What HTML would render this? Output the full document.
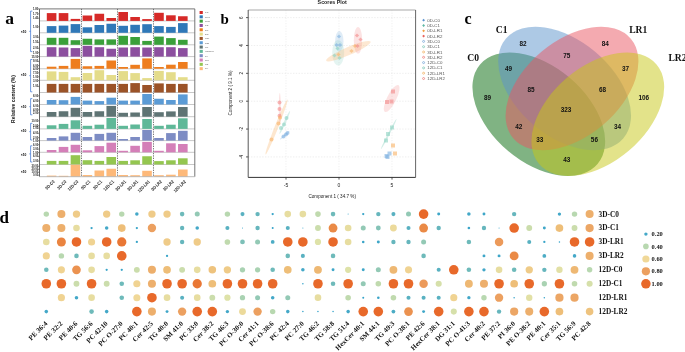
<!DOCTYPE html>
<html><head><meta charset="utf-8"><style>
html,body{margin:0;padding:0;background:#fff;width:685px;height:352px;overflow:hidden}
svg{display:block;filter:blur(0.4px)}
</style></head><body>
<svg width="685" height="352" viewBox="0 0 685 352">
<rect width="685" height="352" fill="#fff"/>
<g id="pa">
<line x1="39.5" y1="20.9" x2="194.8" y2="20.9" stroke="#c8c8c8" stroke-width="1"/>
<line x1="39.5" y1="32.8" x2="194.8" y2="32.8" stroke="#c8c8c8" stroke-width="1"/>
<line x1="39.5" y1="44.8" x2="194.8" y2="44.8" stroke="#c8c8c8" stroke-width="1"/>
<line x1="39.5" y1="56.6" x2="194.8" y2="56.6" stroke="#c8c8c8" stroke-width="1"/>
<line x1="39.5" y1="68.75" x2="194.8" y2="68.75" stroke="#c8c8c8" stroke-width="1"/>
<line x1="39.5" y1="80.3" x2="194.8" y2="80.3" stroke="#c8c8c8" stroke-width="1"/>
<line x1="39.5" y1="92.5" x2="194.8" y2="92.5" stroke="#c8c8c8" stroke-width="1"/>
<line x1="39.5" y1="104.5" x2="194.8" y2="104.5" stroke="#c8c8c8" stroke-width="1"/>
<line x1="39.5" y1="116.7" x2="194.8" y2="116.7" stroke="#c8c8c8" stroke-width="1"/>
<line x1="39.5" y1="128.9" x2="194.8" y2="128.9" stroke="#c8c8c8" stroke-width="1"/>
<line x1="39.5" y1="140.6" x2="194.8" y2="140.6" stroke="#c8c8c8" stroke-width="1"/>
<line x1="39.5" y1="152.3" x2="194.8" y2="152.3" stroke="#c8c8c8" stroke-width="1"/>
<line x1="39.5" y1="164.5" x2="194.8" y2="164.5" stroke="#c8c8c8" stroke-width="1"/>
<rect x="46.8" y="13.1" width="9.6" height="7.8" fill="#d62a28"/>
<rect x="58.73" y="13.1" width="9.6" height="7.8" fill="#d62a28"/>
<rect x="70.66" y="18.9" width="9.6" height="2" fill="#d62a28"/>
<rect x="82.59" y="15.5" width="9.6" height="5.4" fill="#d62a28"/>
<rect x="94.52" y="13.75" width="9.6" height="7.15" fill="#d62a28"/>
<rect x="106.45" y="18" width="9.6" height="2.9" fill="#d62a28"/>
<rect x="118.38" y="12" width="9.6" height="8.9" fill="#d62a28"/>
<rect x="130.31" y="17" width="9.6" height="3.9" fill="#d62a28"/>
<rect x="142.24" y="19.1" width="9.6" height="1.8" fill="#d62a28"/>
<rect x="154.17" y="12.8" width="9.6" height="8.1" fill="#d62a28"/>
<rect x="166.1" y="15.3" width="9.6" height="5.6" fill="#d62a28"/>
<rect x="178.03" y="16.25" width="9.6" height="4.65" fill="#d62a28"/>
<rect x="46.8" y="26.1" width="9.6" height="6.7" fill="#2f78b8"/>
<rect x="58.73" y="25.6" width="9.6" height="7.2" fill="#2f78b8"/>
<rect x="70.66" y="24.1" width="9.6" height="8.7" fill="#2f78b8"/>
<rect x="82.59" y="27.3" width="9.6" height="5.5" fill="#2f78b8"/>
<rect x="94.52" y="25" width="9.6" height="7.8" fill="#2f78b8"/>
<rect x="106.45" y="23.75" width="9.6" height="9.05" fill="#2f78b8"/>
<rect x="118.38" y="25.8" width="9.6" height="7" fill="#2f78b8"/>
<rect x="130.31" y="24.8" width="9.6" height="8" fill="#2f78b8"/>
<rect x="142.24" y="24.2" width="9.6" height="8.6" fill="#2f78b8"/>
<rect x="154.17" y="26.1" width="9.6" height="6.7" fill="#2f78b8"/>
<rect x="166.1" y="26.9" width="9.6" height="5.9" fill="#2f78b8"/>
<rect x="178.03" y="23.1" width="9.6" height="9.7" fill="#2f78b8"/>
<rect x="46.8" y="37.8" width="9.6" height="7" fill="#3aa03a"/>
<rect x="58.73" y="37.8" width="9.6" height="7" fill="#3aa03a"/>
<rect x="70.66" y="40.2" width="9.6" height="4.6" fill="#3aa03a"/>
<rect x="82.59" y="38.75" width="9.6" height="6.05" fill="#3aa03a"/>
<rect x="94.52" y="39.4" width="9.6" height="5.4" fill="#3aa03a"/>
<rect x="106.45" y="39.4" width="9.6" height="5.4" fill="#3aa03a"/>
<rect x="118.38" y="35.8" width="9.6" height="9" fill="#3aa03a"/>
<rect x="130.31" y="37" width="9.6" height="7.8" fill="#3aa03a"/>
<rect x="142.24" y="40.9" width="9.6" height="3.9" fill="#3aa03a"/>
<rect x="154.17" y="36.6" width="9.6" height="8.2" fill="#3aa03a"/>
<rect x="166.1" y="38.1" width="9.6" height="6.7" fill="#3aa03a"/>
<rect x="178.03" y="39.8" width="9.6" height="5" fill="#3aa03a"/>
<rect x="46.8" y="47.2" width="9.6" height="9.4" fill="#8c4f9f"/>
<rect x="58.73" y="47.5" width="9.6" height="9.1" fill="#8c4f9f"/>
<rect x="70.66" y="48.1" width="9.6" height="8.5" fill="#8c4f9f"/>
<rect x="82.59" y="45.9" width="9.6" height="10.7" fill="#8c4f9f"/>
<rect x="94.52" y="47.2" width="9.6" height="9.4" fill="#8c4f9f"/>
<rect x="106.45" y="48.75" width="9.6" height="7.85" fill="#8c4f9f"/>
<rect x="118.38" y="47.5" width="9.6" height="9.1" fill="#8c4f9f"/>
<rect x="130.31" y="47.2" width="9.6" height="9.4" fill="#8c4f9f"/>
<rect x="142.24" y="47.5" width="9.6" height="9.1" fill="#8c4f9f"/>
<rect x="154.17" y="47.2" width="9.6" height="9.4" fill="#8c4f9f"/>
<rect x="166.1" y="47.2" width="9.6" height="9.4" fill="#8c4f9f"/>
<rect x="178.03" y="48.1" width="9.6" height="8.5" fill="#8c4f9f"/>
<rect x="46.8" y="66.7" width="9.6" height="2.05" fill="#ee7d1e"/>
<rect x="58.73" y="65.9" width="9.6" height="2.85" fill="#ee7d1e"/>
<rect x="70.66" y="58.9" width="9.6" height="9.85" fill="#ee7d1e"/>
<rect x="82.59" y="66.25" width="9.6" height="2.5" fill="#ee7d1e"/>
<rect x="94.52" y="65.9" width="9.6" height="2.85" fill="#ee7d1e"/>
<rect x="106.45" y="60.5" width="9.6" height="8.25" fill="#ee7d1e"/>
<rect x="118.38" y="67" width="9.6" height="1.75" fill="#ee7d1e"/>
<rect x="130.31" y="64.8" width="9.6" height="3.95" fill="#ee7d1e"/>
<rect x="142.24" y="58.4" width="9.6" height="10.35" fill="#ee7d1e"/>
<rect x="154.17" y="67" width="9.6" height="1.75" fill="#ee7d1e"/>
<rect x="166.1" y="64.7" width="9.6" height="4.05" fill="#ee7d1e"/>
<rect x="178.03" y="62" width="9.6" height="6.75" fill="#ee7d1e"/>
<rect x="46.8" y="71.4" width="9.6" height="8.9" fill="#e4dc8a"/>
<rect x="58.73" y="71.9" width="9.6" height="8.4" fill="#e4dc8a"/>
<rect x="70.66" y="77.2" width="9.6" height="3.1" fill="#e4dc8a"/>
<rect x="82.59" y="73" width="9.6" height="7.3" fill="#e4dc8a"/>
<rect x="94.52" y="70.2" width="9.6" height="10.1" fill="#e4dc8a"/>
<rect x="106.45" y="75" width="9.6" height="5.3" fill="#e4dc8a"/>
<rect x="118.38" y="71.1" width="9.6" height="9.2" fill="#e4dc8a"/>
<rect x="130.31" y="73.1" width="9.6" height="7.2" fill="#e4dc8a"/>
<rect x="142.24" y="78.1" width="9.6" height="2.2" fill="#e4dc8a"/>
<rect x="154.17" y="70.9" width="9.6" height="9.4" fill="#e4dc8a"/>
<rect x="166.1" y="72.2" width="9.6" height="8.1" fill="#e4dc8a"/>
<rect x="178.03" y="77.2" width="9.6" height="3.1" fill="#e4dc8a"/>
<rect x="46.8" y="83.9" width="9.6" height="8.6" fill="#9b5328"/>
<rect x="58.73" y="83.9" width="9.6" height="8.6" fill="#9b5328"/>
<rect x="70.66" y="83.9" width="9.6" height="8.6" fill="#9b5328"/>
<rect x="82.59" y="83.9" width="9.6" height="8.6" fill="#9b5328"/>
<rect x="94.52" y="83.9" width="9.6" height="8.6" fill="#9b5328"/>
<rect x="106.45" y="83.9" width="9.6" height="8.6" fill="#9b5328"/>
<rect x="118.38" y="83.9" width="9.6" height="8.6" fill="#9b5328"/>
<rect x="130.31" y="83.1" width="9.6" height="9.4" fill="#9b5328"/>
<rect x="142.24" y="85" width="9.6" height="7.5" fill="#9b5328"/>
<rect x="154.17" y="83.4" width="9.6" height="9.1" fill="#9b5328"/>
<rect x="166.1" y="83.9" width="9.6" height="8.6" fill="#9b5328"/>
<rect x="178.03" y="83.9" width="9.6" height="8.6" fill="#9b5328"/>
<rect x="46.8" y="100" width="9.6" height="4.5" fill="#5b9bd5"/>
<rect x="58.73" y="100.2" width="9.6" height="4.3" fill="#5b9bd5"/>
<rect x="70.66" y="96.9" width="9.6" height="7.6" fill="#5b9bd5"/>
<rect x="82.59" y="100.6" width="9.6" height="3.9" fill="#5b9bd5"/>
<rect x="94.52" y="101.1" width="9.6" height="3.4" fill="#5b9bd5"/>
<rect x="106.45" y="97.7" width="9.6" height="6.8" fill="#5b9bd5"/>
<rect x="118.38" y="100.6" width="9.6" height="3.9" fill="#5b9bd5"/>
<rect x="130.31" y="100.6" width="9.6" height="3.9" fill="#5b9bd5"/>
<rect x="142.24" y="94" width="9.6" height="10.5" fill="#5b9bd5"/>
<rect x="154.17" y="98.75" width="9.6" height="5.75" fill="#5b9bd5"/>
<rect x="166.1" y="100" width="9.6" height="4.5" fill="#5b9bd5"/>
<rect x="178.03" y="94.4" width="9.6" height="10.1" fill="#5b9bd5"/>
<rect x="46.8" y="112" width="9.6" height="4.7" fill="#5f7474"/>
<rect x="58.73" y="111.25" width="9.6" height="5.45" fill="#5f7474"/>
<rect x="70.66" y="107.8" width="9.6" height="8.9" fill="#5f7474"/>
<rect x="82.59" y="112" width="9.6" height="4.7" fill="#5f7474"/>
<rect x="94.52" y="111.25" width="9.6" height="5.45" fill="#5f7474"/>
<rect x="106.45" y="105.9" width="9.6" height="10.8" fill="#5f7474"/>
<rect x="118.38" y="112.8" width="9.6" height="3.9" fill="#5f7474"/>
<rect x="130.31" y="112.5" width="9.6" height="4.2" fill="#5f7474"/>
<rect x="142.24" y="107" width="9.6" height="9.7" fill="#5f7474"/>
<rect x="154.17" y="112.2" width="9.6" height="4.5" fill="#5f7474"/>
<rect x="166.1" y="111.4" width="9.6" height="5.3" fill="#5f7474"/>
<rect x="178.03" y="107" width="9.6" height="9.7" fill="#5f7474"/>
<rect x="46.8" y="125.3" width="9.6" height="3.6" fill="#5fb898"/>
<rect x="58.73" y="123.9" width="9.6" height="5" fill="#5fb898"/>
<rect x="70.66" y="120.3" width="9.6" height="8.6" fill="#5fb898"/>
<rect x="82.59" y="125.8" width="9.6" height="3.1" fill="#5fb898"/>
<rect x="94.52" y="124.7" width="9.6" height="4.2" fill="#5fb898"/>
<rect x="106.45" y="118" width="9.6" height="10.9" fill="#5fb898"/>
<rect x="118.38" y="125.8" width="9.6" height="3.1" fill="#5fb898"/>
<rect x="130.31" y="124.5" width="9.6" height="4.4" fill="#5fb898"/>
<rect x="142.24" y="119" width="9.6" height="9.9" fill="#5fb898"/>
<rect x="154.17" y="125.8" width="9.6" height="3.1" fill="#5fb898"/>
<rect x="166.1" y="124.7" width="9.6" height="4.2" fill="#5fb898"/>
<rect x="178.03" y="118.3" width="9.6" height="10.6" fill="#5fb898"/>
<rect x="46.8" y="138" width="9.6" height="2.6" fill="#7d8cc4"/>
<rect x="58.73" y="136.4" width="9.6" height="4.2" fill="#7d8cc4"/>
<rect x="70.66" y="132.8" width="9.6" height="7.8" fill="#7d8cc4"/>
<rect x="82.59" y="137" width="9.6" height="3.6" fill="#7d8cc4"/>
<rect x="94.52" y="133.9" width="9.6" height="6.7" fill="#7d8cc4"/>
<rect x="106.45" y="132.8" width="9.6" height="7.8" fill="#7d8cc4"/>
<rect x="118.38" y="139" width="9.6" height="1.6" fill="#7d8cc4"/>
<rect x="130.31" y="137" width="9.6" height="3.6" fill="#7d8cc4"/>
<rect x="142.24" y="130" width="9.6" height="10.6" fill="#7d8cc4"/>
<rect x="154.17" y="138" width="9.6" height="2.6" fill="#7d8cc4"/>
<rect x="166.1" y="133.1" width="9.6" height="7.5" fill="#7d8cc4"/>
<rect x="178.03" y="130.8" width="9.6" height="9.8" fill="#7d8cc4"/>
<rect x="46.8" y="150" width="9.6" height="2.3" fill="#d47fb8"/>
<rect x="58.73" y="146.9" width="9.6" height="5.4" fill="#d47fb8"/>
<rect x="70.66" y="144.8" width="9.6" height="7.5" fill="#d47fb8"/>
<rect x="82.59" y="150.3" width="9.6" height="2" fill="#d47fb8"/>
<rect x="94.52" y="146.1" width="9.6" height="6.2" fill="#d47fb8"/>
<rect x="106.45" y="142.7" width="9.6" height="9.6" fill="#d47fb8"/>
<rect x="118.38" y="150.8" width="9.6" height="1.5" fill="#d47fb8"/>
<rect x="130.31" y="145.8" width="9.6" height="6.5" fill="#d47fb8"/>
<rect x="142.24" y="141.9" width="9.6" height="10.4" fill="#d47fb8"/>
<rect x="154.17" y="150.8" width="9.6" height="1.5" fill="#d47fb8"/>
<rect x="166.1" y="143.3" width="9.6" height="9" fill="#d47fb8"/>
<rect x="178.03" y="144" width="9.6" height="8.3" fill="#d47fb8"/>
<rect x="46.8" y="160.9" width="9.6" height="3.6" fill="#94c650"/>
<rect x="58.73" y="160.9" width="9.6" height="3.6" fill="#94c650"/>
<rect x="70.66" y="155.2" width="9.6" height="9.3" fill="#94c650"/>
<rect x="82.59" y="160.2" width="9.6" height="4.3" fill="#94c650"/>
<rect x="94.52" y="160.9" width="9.6" height="3.6" fill="#94c650"/>
<rect x="106.45" y="157" width="9.6" height="7.5" fill="#94c650"/>
<rect x="118.38" y="160.9" width="9.6" height="3.6" fill="#94c650"/>
<rect x="130.31" y="160.3" width="9.6" height="4.2" fill="#94c650"/>
<rect x="142.24" y="156.25" width="9.6" height="8.25" fill="#94c650"/>
<rect x="154.17" y="161.1" width="9.6" height="3.4" fill="#94c650"/>
<rect x="166.1" y="160.3" width="9.6" height="4.2" fill="#94c650"/>
<rect x="178.03" y="158.3" width="9.6" height="6.2" fill="#94c650"/>
<rect x="46.8" y="175.6" width="9.6" height="1" fill="#fdb97a"/>
<rect x="58.73" y="175.8" width="9.6" height="0.8" fill="#fdb97a"/>
<rect x="70.66" y="164.8" width="9.6" height="11.8" fill="#fdb97a"/>
<rect x="82.59" y="175" width="9.6" height="1.6" fill="#fdb97a"/>
<rect x="94.52" y="170.5" width="9.6" height="6.1" fill="#fdb97a"/>
<rect x="106.45" y="168.75" width="9.6" height="7.85" fill="#fdb97a"/>
<rect x="118.38" y="175" width="9.6" height="1.6" fill="#fdb97a"/>
<rect x="130.31" y="175.2" width="9.6" height="1.4" fill="#fdb97a"/>
<rect x="142.24" y="170.8" width="9.6" height="5.8" fill="#fdb97a"/>
<rect x="154.17" y="175.2" width="9.6" height="1.4" fill="#fdb97a"/>
<rect x="166.1" y="174.7" width="9.6" height="1.9" fill="#fdb97a"/>
<rect x="178.03" y="169.5" width="9.6" height="7.1" fill="#fdb97a"/>
<line x1="81.5" y1="8.9" x2="81.5" y2="176.7" stroke="#555" stroke-width="0.8" stroke-dasharray="1.3,1.1"/>
<line x1="117.5" y1="8.9" x2="117.5" y2="176.7" stroke="#555" stroke-width="0.8" stroke-dasharray="1.3,1.1"/>
<line x1="153.5" y1="8.9" x2="153.5" y2="176.7" stroke="#555" stroke-width="0.8" stroke-dasharray="1.3,1.1"/>
<line x1="39.5" y1="8.9" x2="194.8" y2="8.9" stroke="#666" stroke-width="0.9"/>
<line x1="194.8" y1="8.9" x2="194.8" y2="176.7" stroke="#666" stroke-width="0.9"/>
<line x1="39.5" y1="8.9" x2="39.5" y2="176.7" stroke="#555" stroke-width="0.9"/>
<line x1="39.5" y1="176.7" x2="194.8" y2="176.7" stroke="#aaa" stroke-width="0.8"/>
<line x1="38.0" y1="8.9" x2="39.5" y2="8.9" stroke="#555" stroke-width="0.6"/>
<text x="38.3" y="9.8" font-size="2.7" font-family="'Liberation Sans', sans-serif" fill="#222" text-anchor="end" font-weight="bold">1.80</text>
<line x1="38.0" y1="13.9" x2="39.5" y2="13.9" stroke="#555" stroke-width="0.6"/>
<text x="38.3" y="14.8" font-size="2.7" font-family="'Liberation Sans', sans-serif" fill="#222" text-anchor="end" font-weight="bold">1.70</text>
<line x1="38.0" y1="18.3" x2="39.5" y2="18.3" stroke="#555" stroke-width="0.6"/>
<text x="38.3" y="19.2" font-size="2.7" font-family="'Liberation Sans', sans-serif" fill="#222" text-anchor="end" font-weight="bold">1.40</text>
<line x1="38.0" y1="26.9" x2="39.5" y2="26.9" stroke="#555" stroke-width="0.6"/>
<text x="38.3" y="27.799999999999997" font-size="2.7" font-family="'Liberation Sans', sans-serif" fill="#222" text-anchor="end" font-weight="bold">1.00</text>
<line x1="38.0" y1="37.3" x2="39.5" y2="37.3" stroke="#555" stroke-width="0.6"/>
<text x="38.3" y="38.199999999999996" font-size="2.7" font-family="'Liberation Sans', sans-serif" fill="#222" text-anchor="end" font-weight="bold">3.00</text>
<line x1="38.0" y1="42.5" x2="39.5" y2="42.5" stroke="#555" stroke-width="0.6"/>
<text x="38.3" y="43.4" font-size="2.7" font-family="'Liberation Sans', sans-serif" fill="#222" text-anchor="end" font-weight="bold">1.50</text>
<line x1="38.0" y1="48.4" x2="39.5" y2="48.4" stroke="#555" stroke-width="0.6"/>
<text x="38.3" y="49.3" font-size="2.7" font-family="'Liberation Sans', sans-serif" fill="#222" text-anchor="end" font-weight="bold">2.00</text>
<line x1="38.0" y1="52.7" x2="39.5" y2="52.7" stroke="#555" stroke-width="0.6"/>
<text x="38.3" y="53.6" font-size="2.7" font-family="'Liberation Sans', sans-serif" fill="#222" text-anchor="end" font-weight="bold">1.00</text>
<line x1="38.0" y1="56.6" x2="39.5" y2="56.6" stroke="#555" stroke-width="0.6"/>
<text x="38.3" y="57.5" font-size="2.7" font-family="'Liberation Sans', sans-serif" fill="#222" text-anchor="end" font-weight="bold">15.00</text>
<line x1="38.0" y1="61.5" x2="39.5" y2="61.5" stroke="#555" stroke-width="0.6"/>
<text x="38.3" y="62.4" font-size="2.7" font-family="'Liberation Sans', sans-serif" fill="#222" text-anchor="end" font-weight="bold">9.00</text>
<line x1="38.0" y1="65.6" x2="39.5" y2="65.6" stroke="#555" stroke-width="0.6"/>
<text x="38.3" y="66.5" font-size="2.7" font-family="'Liberation Sans', sans-serif" fill="#222" text-anchor="end" font-weight="bold">6.00</text>
<line x1="38.0" y1="68.6" x2="39.5" y2="68.6" stroke="#555" stroke-width="0.6"/>
<text x="38.3" y="69.5" font-size="2.7" font-family="'Liberation Sans', sans-serif" fill="#222" text-anchor="end" font-weight="bold">4.00</text>
<line x1="38.0" y1="72.9" x2="39.5" y2="72.9" stroke="#555" stroke-width="0.6"/>
<text x="38.3" y="73.80000000000001" font-size="2.7" font-family="'Liberation Sans', sans-serif" fill="#222" text-anchor="end" font-weight="bold">7.50</text>
<line x1="38.0" y1="76.8" x2="39.5" y2="76.8" stroke="#555" stroke-width="0.6"/>
<text x="38.3" y="77.7" font-size="2.7" font-family="'Liberation Sans', sans-serif" fill="#222" text-anchor="end" font-weight="bold">1.00</text>
<line x1="38.0" y1="80.6" x2="39.5" y2="80.6" stroke="#555" stroke-width="0.6"/>
<text x="38.3" y="81.5" font-size="2.7" font-family="'Liberation Sans', sans-serif" fill="#222" text-anchor="end" font-weight="bold">3.00</text>
<line x1="38.0" y1="86.5" x2="39.5" y2="86.5" stroke="#555" stroke-width="0.6"/>
<text x="38.3" y="87.4" font-size="2.7" font-family="'Liberation Sans', sans-serif" fill="#222" text-anchor="end" font-weight="bold">1.00</text>
<line x1="38.0" y1="95.9" x2="39.5" y2="95.9" stroke="#555" stroke-width="0.6"/>
<text x="38.3" y="96.80000000000001" font-size="2.7" font-family="'Liberation Sans', sans-serif" fill="#222" text-anchor="end" font-weight="bold">8.00</text>
<line x1="38.0" y1="101" x2="39.5" y2="101" stroke="#555" stroke-width="0.6"/>
<text x="38.3" y="101.9" font-size="2.7" font-family="'Liberation Sans', sans-serif" fill="#222" text-anchor="end" font-weight="bold">4.00</text>
<line x1="38.0" y1="106.1" x2="39.5" y2="106.1" stroke="#555" stroke-width="0.6"/>
<text x="38.3" y="107.0" font-size="2.7" font-family="'Liberation Sans', sans-serif" fill="#222" text-anchor="end" font-weight="bold">6.00</text>
<line x1="38.0" y1="109.9" x2="39.5" y2="109.9" stroke="#555" stroke-width="0.6"/>
<text x="38.3" y="110.80000000000001" font-size="2.7" font-family="'Liberation Sans', sans-serif" fill="#222" text-anchor="end" font-weight="bold">4.00</text>
<line x1="38.0" y1="112.9" x2="39.5" y2="112.9" stroke="#555" stroke-width="0.6"/>
<text x="38.3" y="113.80000000000001" font-size="2.7" font-family="'Liberation Sans', sans-serif" fill="#222" text-anchor="end" font-weight="bold">2.00</text>
<line x1="38.0" y1="120.9" x2="39.5" y2="120.9" stroke="#555" stroke-width="0.6"/>
<text x="38.3" y="121.80000000000001" font-size="2.7" font-family="'Liberation Sans', sans-serif" fill="#222" text-anchor="end" font-weight="bold">10.00</text>
<line x1="38.0" y1="125.8" x2="39.5" y2="125.8" stroke="#555" stroke-width="0.6"/>
<text x="38.3" y="126.7" font-size="2.7" font-family="'Liberation Sans', sans-serif" fill="#222" text-anchor="end" font-weight="bold">5.00</text>
<line x1="38.0" y1="128.2" x2="39.5" y2="128.2" stroke="#555" stroke-width="0.6"/>
<text x="38.3" y="129.1" font-size="2.7" font-family="'Liberation Sans', sans-serif" fill="#222" text-anchor="end" font-weight="bold">1.00</text>
<line x1="38.0" y1="133.4" x2="39.5" y2="133.4" stroke="#555" stroke-width="0.6"/>
<text x="38.3" y="134.3" font-size="2.7" font-family="'Liberation Sans', sans-serif" fill="#222" text-anchor="end" font-weight="bold">4.00</text>
<line x1="38.0" y1="137.7" x2="39.5" y2="137.7" stroke="#555" stroke-width="0.6"/>
<text x="38.3" y="138.6" font-size="2.7" font-family="'Liberation Sans', sans-serif" fill="#222" text-anchor="end" font-weight="bold">2.00</text>
<line x1="38.0" y1="140.7" x2="39.5" y2="140.7" stroke="#555" stroke-width="0.6"/>
<text x="38.3" y="141.6" font-size="2.7" font-family="'Liberation Sans', sans-serif" fill="#222" text-anchor="end" font-weight="bold">1.00</text>
<line x1="38.0" y1="144.7" x2="39.5" y2="144.7" stroke="#555" stroke-width="0.6"/>
<text x="38.3" y="145.6" font-size="2.7" font-family="'Liberation Sans', sans-serif" fill="#222" text-anchor="end" font-weight="bold">6.00</text>
<line x1="38.0" y1="149.2" x2="39.5" y2="149.2" stroke="#555" stroke-width="0.6"/>
<text x="38.3" y="150.1" font-size="2.7" font-family="'Liberation Sans', sans-serif" fill="#222" text-anchor="end" font-weight="bold">3.00</text>
<line x1="38.0" y1="152.6" x2="39.5" y2="152.6" stroke="#555" stroke-width="0.6"/>
<text x="38.3" y="153.5" font-size="2.7" font-family="'Liberation Sans', sans-serif" fill="#222" text-anchor="end" font-weight="bold">1.00</text>
<line x1="38.0" y1="156.5" x2="39.5" y2="156.5" stroke="#555" stroke-width="0.6"/>
<text x="38.3" y="157.4" font-size="2.7" font-family="'Liberation Sans', sans-serif" fill="#222" text-anchor="end" font-weight="bold">6.00</text>
<line x1="38.0" y1="161.1" x2="39.5" y2="161.1" stroke="#555" stroke-width="0.6"/>
<text x="38.3" y="162.0" font-size="2.7" font-family="'Liberation Sans', sans-serif" fill="#222" text-anchor="end" font-weight="bold">3.00</text>
<line x1="38.0" y1="166.4" x2="39.5" y2="166.4" stroke="#555" stroke-width="0.6"/>
<text x="38.3" y="167.3" font-size="2.7" font-family="'Liberation Sans', sans-serif" fill="#222" text-anchor="end" font-weight="bold">30.00</text>
<line x1="38.0" y1="169.4" x2="39.5" y2="169.4" stroke="#555" stroke-width="0.6"/>
<text x="38.3" y="170.3" font-size="2.7" font-family="'Liberation Sans', sans-serif" fill="#222" text-anchor="end" font-weight="bold">20.00</text>
<line x1="38.0" y1="172.4" x2="39.5" y2="172.4" stroke="#555" stroke-width="0.6"/>
<text x="38.3" y="173.3" font-size="2.7" font-family="'Liberation Sans', sans-serif" fill="#222" text-anchor="end" font-weight="bold">10.00</text>
<line x1="38.0" y1="175.3" x2="39.5" y2="175.3" stroke="#555" stroke-width="0.6"/>
<text x="38.3" y="176.20000000000002" font-size="2.7" font-family="'Liberation Sans', sans-serif" fill="#222" text-anchor="end" font-weight="bold">0.00</text>
<path d="M32.3,11.1 H30.6 V51.6 H32.3 M30.6,31.35 H29.3" stroke="#4a7fd8" stroke-width="0.8" fill="none"/>
<path d="M32.3,59.5 H30.6 V91.8 H32.3 M30.6,75.65 H29.3" stroke="#4a7fd8" stroke-width="0.8" fill="none"/>
<path d="M32.3,98.6 H30.6 V114.8 H32.3 M30.6,106.7 H29.3" stroke="#4a7fd8" stroke-width="0.8" fill="none"/>
<path d="M32.3,123.3 H30.6 V140 H32.3 M30.6,131.65 H29.3" stroke="#4a7fd8" stroke-width="0.8" fill="none"/>
<path d="M32.3,145.8 H30.6 V162 H32.3 M30.6,153.9 H29.3" stroke="#4a7fd8" stroke-width="0.8" fill="none"/>
<text x="20.8" y="32.7" font-size="3.3" font-family="'Liberation Sans', sans-serif" fill="#000" font-weight="bold">×10</text>
<text x="20.8" y="76.39999999999999" font-size="3.3" font-family="'Liberation Sans', sans-serif" fill="#000" font-weight="bold">×10</text>
<text x="20.8" y="107.8" font-size="3.3" font-family="'Liberation Sans', sans-serif" fill="#000" font-weight="bold">×10</text>
<text x="20.8" y="132.35" font-size="3.3" font-family="'Liberation Sans', sans-serif" fill="#000" font-weight="bold">×10</text>
<text x="20.8" y="155.79999999999998" font-size="3.3" font-family="'Liberation Sans', sans-serif" fill="#000" font-weight="bold">×10</text>
<text x="20.8" y="172.7" font-size="3.3" font-family="'Liberation Sans', sans-serif" fill="#000" font-weight="bold">×10</text>
<text transform="translate(14.6,99) rotate(-90)" font-size="5.0" font-family="'Liberation Sans', sans-serif" fill="#111" font-weight="bold" text-anchor="middle">Relative content (%)</text>
<text transform="translate(54.9,182) rotate(-45)" font-size="4.6" font-family="'Liberation Sans', sans-serif" fill="#222" font-weight="bold" text-anchor="end" textLength="11.2" lengthAdjust="spacingAndGlyphs">0D-C0</text>
<text transform="translate(66.83,182) rotate(-45)" font-size="4.6" font-family="'Liberation Sans', sans-serif" fill="#222" font-weight="bold" text-anchor="end" textLength="11.2" lengthAdjust="spacingAndGlyphs">3D-C0</text>
<text transform="translate(78.76,182) rotate(-45)" font-size="4.6" font-family="'Liberation Sans', sans-serif" fill="#222" font-weight="bold" text-anchor="end" textLength="13.2" lengthAdjust="spacingAndGlyphs">12D-C0</text>
<text transform="translate(90.69,182) rotate(-45)" font-size="4.6" font-family="'Liberation Sans', sans-serif" fill="#222" font-weight="bold" text-anchor="end" textLength="11.2" lengthAdjust="spacingAndGlyphs">0D-C1</text>
<text transform="translate(102.62,182) rotate(-45)" font-size="4.6" font-family="'Liberation Sans', sans-serif" fill="#222" font-weight="bold" text-anchor="end" textLength="11.2" lengthAdjust="spacingAndGlyphs">3D-C1</text>
<text transform="translate(114.55,182) rotate(-45)" font-size="4.6" font-family="'Liberation Sans', sans-serif" fill="#222" font-weight="bold" text-anchor="end" textLength="13.2" lengthAdjust="spacingAndGlyphs">12D-C1</text>
<text transform="translate(126.48,182) rotate(-45)" font-size="4.6" font-family="'Liberation Sans', sans-serif" fill="#222" font-weight="bold" text-anchor="end" textLength="13.2" lengthAdjust="spacingAndGlyphs">0D-LR1</text>
<text transform="translate(138.41,182) rotate(-45)" font-size="4.6" font-family="'Liberation Sans', sans-serif" fill="#222" font-weight="bold" text-anchor="end" textLength="13.2" lengthAdjust="spacingAndGlyphs">3D-LR1</text>
<text transform="translate(150.34,182) rotate(-45)" font-size="4.6" font-family="'Liberation Sans', sans-serif" fill="#222" font-weight="bold" text-anchor="end" textLength="15.2" lengthAdjust="spacingAndGlyphs">12D-LR1</text>
<text transform="translate(162.27,182) rotate(-45)" font-size="4.6" font-family="'Liberation Sans', sans-serif" fill="#222" font-weight="bold" text-anchor="end" textLength="13.2" lengthAdjust="spacingAndGlyphs">0D-LR2</text>
<text transform="translate(174.2,182) rotate(-45)" font-size="4.6" font-family="'Liberation Sans', sans-serif" fill="#222" font-weight="bold" text-anchor="end" textLength="13.2" lengthAdjust="spacingAndGlyphs">3D-LR2</text>
<text transform="translate(186.13,182) rotate(-45)" font-size="4.6" font-family="'Liberation Sans', sans-serif" fill="#222" font-weight="bold" text-anchor="end" textLength="15.2" lengthAdjust="spacingAndGlyphs">12D-LR2</text>
<rect x="199.6" y="11" width="3.2" height="3" fill="#d62a28"/>
<text x="205" y="13.3" font-size="2.5" font-family="'Liberation Sans', sans-serif" fill="#777" font-weight="bold">PC</text>
<rect x="199.6" y="15.32" width="3.2" height="3" fill="#2f78b8"/>
<text x="205" y="17.62" font-size="2.5" font-family="'Liberation Sans', sans-serif" fill="#777" font-weight="bold">LPC</text>
<rect x="199.6" y="19.64" width="3.2" height="3" fill="#3aa03a"/>
<text x="205" y="21.94" font-size="2.5" font-family="'Liberation Sans', sans-serif" fill="#777" font-weight="bold">LPE</text>
<rect x="199.6" y="23.96" width="3.2" height="3" fill="#8c4f9f"/>
<text x="205" y="26.26" font-size="2.5" font-family="'Liberation Sans', sans-serif" fill="#777" font-weight="bold">PE</text>
<rect x="199.6" y="28.28" width="3.2" height="3" fill="#ee7d1e"/>
<text x="205" y="30.58" font-size="2.5" font-family="'Liberation Sans', sans-serif" fill="#777" font-weight="bold">TG</text>
<rect x="199.6" y="32.6" width="3.2" height="3" fill="#e4dc8a"/>
<text x="205" y="34.9" font-size="2.5" font-family="'Liberation Sans', sans-serif" fill="#777" font-weight="bold">DG</text>
<rect x="199.6" y="36.92" width="3.2" height="3" fill="#9b5328"/>
<text x="205" y="39.22" font-size="2.5" font-family="'Liberation Sans', sans-serif" fill="#777" font-weight="bold">Cer</text>
<rect x="199.6" y="41.24" width="3.2" height="3" fill="#5b9bd5"/>
<text x="205" y="43.54" font-size="2.5" font-family="'Liberation Sans', sans-serif" fill="#777" font-weight="bold">SM</text>
<rect x="199.6" y="45.56" width="3.2" height="3" fill="#5f7474"/>
<text x="205" y="47.86" font-size="2.5" font-family="'Liberation Sans', sans-serif" fill="#777" font-weight="bold">CL</text>
<rect x="199.6" y="49.88" width="3.2" height="3" fill="#5fb898"/>
<text x="205" y="52.18" font-size="2.5" font-family="'Liberation Sans', sans-serif" fill="#777" font-weight="bold">HexCer</text>
<rect x="199.6" y="54.2" width="3.2" height="3" fill="#7d8cc4"/>
<text x="205" y="56.5" font-size="2.5" font-family="'Liberation Sans', sans-serif" fill="#777" font-weight="bold">PI</text>
<rect x="199.6" y="58.52" width="3.2" height="3" fill="#d47fb8"/>
<text x="205" y="60.82" font-size="2.5" font-family="'Liberation Sans', sans-serif" fill="#777" font-weight="bold">LPI</text>
<rect x="199.6" y="62.84" width="3.2" height="3" fill="#94c650"/>
<text x="205" y="65.14" font-size="2.5" font-family="'Liberation Sans', sans-serif" fill="#777" font-weight="bold">Co</text>
<rect x="199.6" y="67.16" width="3.2" height="3" fill="#fdb97a"/>
<text x="205" y="69.46" font-size="2.5" font-family="'Liberation Sans', sans-serif" fill="#777" font-weight="bold">PA</text>
</g>
<text x="5.2" y="23.9" font-size="17.5" font-family="'Liberation Serif', serif" font-weight="bold" fill="#000">a</text>
<g id="pb">
<line x1="248.2" y1="17.62" x2="415.6" y2="17.62" stroke="#e2e2e2" stroke-width="0.6" stroke-dasharray="1.4,1.4"/>
<line x1="248.2" y1="45.48" x2="415.6" y2="45.48" stroke="#e2e2e2" stroke-width="0.6" stroke-dasharray="1.4,1.4"/>
<line x1="248.2" y1="73.34" x2="415.6" y2="73.34" stroke="#e2e2e2" stroke-width="0.6" stroke-dasharray="1.4,1.4"/>
<line x1="248.2" y1="101.2" x2="415.6" y2="101.2" stroke="#e2e2e2" stroke-width="0.6" stroke-dasharray="1.4,1.4"/>
<line x1="248.2" y1="129.06" x2="415.6" y2="129.06" stroke="#e2e2e2" stroke-width="0.6" stroke-dasharray="1.4,1.4"/>
<line x1="248.2" y1="156.92" x2="415.6" y2="156.92" stroke="#e2e2e2" stroke-width="0.6" stroke-dasharray="1.4,1.4"/>
<line x1="286" y1="10.0" x2="286" y2="177.4" stroke="#e6e6e6" stroke-width="0.6" stroke-dasharray="1.2,1.4"/>
<line x1="339" y1="10.0" x2="339" y2="177.4" stroke="#e6e6e6" stroke-width="0.6" stroke-dasharray="1.2,1.4"/>
<line x1="392" y1="10.0" x2="392" y2="177.4" stroke="#e6e6e6" stroke-width="0.6" stroke-dasharray="1.2,1.4"/>
<ellipse cx="339.3" cy="41.2" rx="4.2" ry="10.2" transform="rotate(0 339.3 41.2)" fill="#7fb2e0" fill-opacity="0.25"/>
<ellipse cx="338.2" cy="52.7" rx="6" ry="12.8" transform="rotate(0 338.2 52.7)" fill="#8fd3c4" fill-opacity="0.24"/>
<ellipse cx="348.4" cy="51.15" rx="24.2" ry="4" transform="rotate(-23.3 348.4 51.15)" fill="#f9b46a" fill-opacity="0.3"/>
<ellipse cx="358" cy="40.25" rx="4.2" ry="13.3" transform="rotate(0 358 40.25)" fill="#f28a8a" fill-opacity="0.24"/>
<ellipse cx="276.5" cy="127" rx="29.6" ry="1.8" transform="rotate(-68.2 276.5 127)" fill="#f9b46a" fill-opacity="0.32"/>
<ellipse cx="284.75" cy="122.5" rx="12.6" ry="1.1" transform="rotate(-65.5 284.75 122.5)" fill="#8fd3c4" fill-opacity="0.35"/>
<ellipse cx="284.75" cy="135.25" rx="6.4" ry="1" transform="rotate(-41.8 284.75 135.25)" fill="#7fb2e0" fill-opacity="0.3"/>
<ellipse cx="279.8" cy="109" rx="1" ry="16" transform="rotate(0 279.8 109)" fill="#f28a8a" fill-opacity="0.25"/>
<ellipse cx="391.65" cy="98.5" rx="15" ry="4.6" transform="rotate(-63.6 391.65 98.5)" fill="#f28a8a" fill-opacity="0.24"/>
<ellipse cx="388.75" cy="134" rx="16.9" ry="0.9" transform="rotate(-62.7 388.75 134)" fill="#8fd3c4" fill-opacity="0.4"/>
<path d="M339,34.4 L341.1,36.5 L339,38.6 L336.9,36.5Z" fill="#7fb2e0" fill-opacity="0.62"/>
<path d="M336.5,42.9 L338.6,45 L336.5,47.1 L334.4,45Z" fill="#7fb2e0" fill-opacity="0.62"/>
<path d="M340,42.9 L342.1,45 L340,47.1 L337.9,45Z" fill="#7fb2e0" fill-opacity="0.62"/>
<path d="M337.5,46.4 L339.6,48.5 L337.5,50.6 L335.4,48.5Z" fill="#8fd3c4" fill-opacity="0.62"/>
<path d="M334.5,53.4 L336.6,55.5 L334.5,57.6 L332.4,55.5Z" fill="#8fd3c4" fill-opacity="0.62"/>
<path d="M339.5,55.9 L341.6,58 L339.5,60.1 L337.4,58Z" fill="#8fd3c4" fill-opacity="0.62"/>
<path d="M338.5,52.4 L340.6,54.5 L338.5,56.6 L336.4,54.5Z" fill="#f9b46a" fill-opacity="0.62"/>
<path d="M351.5,48.9 L353.6,51 L351.5,53.1 L349.4,51Z" fill="#f9b46a" fill-opacity="0.62"/>
<path d="M355,43.9 L357.1,46 L355,48.1 L352.9,46Z" fill="#f9b46a" fill-opacity="0.62"/>
<path d="M357,33.4 L359.1,35.5 L357,37.6 L354.9,35.5Z" fill="#f28a8a" fill-opacity="0.62"/>
<path d="M360.5,37.4 L362.6,39.5 L360.5,41.6 L358.4,39.5Z" fill="#f28a8a" fill-opacity="0.62"/>
<path d="M357.5,43.9 L359.6,46 L357.5,48.1 L355.4,46Z" fill="#f28a8a" fill-opacity="0.62"/>
<circle cx="279.5" cy="102.5" r="2.0" fill="#f28a8a" fill-opacity="0.62"/>
<circle cx="279.5" cy="108.9" r="2.0" fill="#f28a8a" fill-opacity="0.62"/>
<circle cx="279.5" cy="115.8" r="2.0" fill="#f28a8a" fill-opacity="0.62"/>
<circle cx="280" cy="117.5" r="2.0" fill="#f9b46a" fill-opacity="0.62"/>
<circle cx="278.5" cy="123.5" r="2.0" fill="#f9b46a" fill-opacity="0.62"/>
<circle cx="271.5" cy="139.5" r="2.0" fill="#f9b46a" fill-opacity="0.62"/>
<circle cx="286.5" cy="118" r="2.0" fill="#8fd3c4" fill-opacity="0.62"/>
<circle cx="284" cy="124.5" r="2.0" fill="#8fd3c4" fill-opacity="0.62"/>
<circle cx="281" cy="128" r="2.0" fill="#8fd3c4" fill-opacity="0.62"/>
<circle cx="283.5" cy="136.5" r="2.0" fill="#7fb2e0" fill-opacity="0.62"/>
<circle cx="286" cy="134.5" r="2.0" fill="#7fb2e0" fill-opacity="0.62"/>
<circle cx="287.5" cy="133" r="2.0" fill="#7fb2e0" fill-opacity="0.62"/>
<rect x="391" y="89.5" width="4" height="4" fill="#f28a8a" fill-opacity="0.62"/>
<rect x="385" y="100" width="4" height="4" fill="#f28a8a" fill-opacity="0.62"/>
<rect x="389.5" y="99.5" width="4" height="4" fill="#f28a8a" fill-opacity="0.62"/>
<rect x="390" y="125.5" width="4" height="4" fill="#8fd3c4" fill-opacity="0.62"/>
<rect x="386" y="132" width="4" height="4" fill="#8fd3c4" fill-opacity="0.62"/>
<rect x="384" y="138.5" width="4" height="4" fill="#8fd3c4" fill-opacity="0.62"/>
<rect x="391" y="143.5" width="4" height="4" fill="#f9b46a" fill-opacity="0.62"/>
<rect x="393" y="151.5" width="4" height="4" fill="#f9b46a" fill-opacity="0.62"/>
<rect x="384.5" y="154" width="4" height="4" fill="#7fb2e0" fill-opacity="0.62"/>
<rect x="387.5" y="151.5" width="4" height="4" fill="#7fb2e0" fill-opacity="0.62"/>
<rect x="385.5" y="155" width="4" height="4" fill="#7fb2e0" fill-opacity="0.62"/>
<line x1="248.2" y1="10.0" x2="415.6" y2="10.0" stroke="#aaa" stroke-width="1.1"/>
<line x1="415.6" y1="10.0" x2="415.6" y2="177.4" stroke="#555" stroke-width="0.9"/>
<line x1="248.2" y1="10.0" x2="248.2" y2="177.4" stroke="#444" stroke-width="0.9"/>
<line x1="248.2" y1="177.4" x2="415.6" y2="177.4" stroke="#333" stroke-width="1"/>
<line x1="246.0" y1="17.62" x2="248.2" y2="17.62" stroke="#333" stroke-width="0.8"/>
<text transform="translate(242.6,17.62) rotate(-90)" font-size="4.6" font-family="'Liberation Sans', sans-serif" fill="#222" text-anchor="middle">6</text>
<line x1="246.0" y1="45.48" x2="248.2" y2="45.48" stroke="#333" stroke-width="0.8"/>
<text transform="translate(242.6,45.48) rotate(-90)" font-size="4.6" font-family="'Liberation Sans', sans-serif" fill="#222" text-anchor="middle">4</text>
<line x1="246.0" y1="73.34" x2="248.2" y2="73.34" stroke="#333" stroke-width="0.8"/>
<text transform="translate(242.6,73.34) rotate(-90)" font-size="4.6" font-family="'Liberation Sans', sans-serif" fill="#222" text-anchor="middle">2</text>
<line x1="246.0" y1="101.2" x2="248.2" y2="101.2" stroke="#333" stroke-width="0.8"/>
<text transform="translate(242.6,101.2) rotate(-90)" font-size="4.6" font-family="'Liberation Sans', sans-serif" fill="#222" text-anchor="middle">0</text>
<line x1="246.0" y1="129.06" x2="248.2" y2="129.06" stroke="#333" stroke-width="0.8"/>
<text transform="translate(242.6,129.06) rotate(-90)" font-size="4.6" font-family="'Liberation Sans', sans-serif" fill="#222" text-anchor="middle">-2</text>
<line x1="246.0" y1="156.92" x2="248.2" y2="156.92" stroke="#333" stroke-width="0.8"/>
<text transform="translate(242.6,156.92) rotate(-90)" font-size="4.6" font-family="'Liberation Sans', sans-serif" fill="#222" text-anchor="middle">-4</text>
<line x1="286" y1="177.4" x2="286" y2="179.6" stroke="#333" stroke-width="0.8"/>
<text x="286" y="187.4" font-size="5" font-family="'Liberation Sans', sans-serif" fill="#222" text-anchor="middle">-5</text>
<line x1="339" y1="177.4" x2="339" y2="179.6" stroke="#333" stroke-width="0.8"/>
<text x="339" y="187.4" font-size="5" font-family="'Liberation Sans', sans-serif" fill="#222" text-anchor="middle">0</text>
<line x1="392" y1="177.4" x2="392" y2="179.6" stroke="#333" stroke-width="0.8"/>
<text x="392" y="187.4" font-size="5" font-family="'Liberation Sans', sans-serif" fill="#222" text-anchor="middle">5</text>
<text x="332.2" y="198.2" font-size="4.6" font-family="'Liberation Sans', sans-serif" fill="#1a1a1a" text-anchor="middle">Component 1 ( 34.7 %)</text>
<text transform="translate(231.6,93) rotate(-90)" font-size="4.6" font-family="'Liberation Sans', sans-serif" fill="#1a1a1a" text-anchor="middle">Component 2 ( 9.1 %)</text>
<text x="332.2" y="4.2" font-size="5.3" font-family="'Liberation Sans', sans-serif" fill="#222" text-anchor="middle" font-weight="bold">Scores Plot</text>
<path d="M423.6,18.8 L425,20.2 L423.6,21.6 L422.2,20.2Z" fill="#5a93d0"/>
<text x="427.3" y="21.7" font-size="4.4" font-family="'Liberation Sans', sans-serif" fill="#555">0D-C0</text>
<path d="M423.6,24.1 L425,25.5 L423.6,26.9 L422.2,25.5Z" fill="#5fb8a4"/>
<text x="427.3" y="27" font-size="4.4" font-family="'Liberation Sans', sans-serif" fill="#555">0D-C1</text>
<path d="M423.6,29.4 L425,30.8 L423.6,32.2 L422.2,30.8Z" fill="#f0a040"/>
<text x="427.3" y="32.3" font-size="4.4" font-family="'Liberation Sans', sans-serif" fill="#555">0D-LR1</text>
<path d="M423.6,34.7 L425,36.1 L423.6,37.5 L422.2,36.1Z" fill="#e8605a"/>
<text x="427.3" y="37.6" font-size="4.4" font-family="'Liberation Sans', sans-serif" fill="#555">0D-LR2</text>
<circle cx="423.6" cy="41.4" r="1.0" fill="none" stroke="#5a93d0" stroke-width="0.6"/>
<text x="427.3" y="42.9" font-size="4.4" font-family="'Liberation Sans', sans-serif" fill="#555">3D-C0</text>
<circle cx="423.6" cy="46.7" r="1.0" fill="none" stroke="#5fb8a4" stroke-width="0.6"/>
<text x="427.3" y="48.2" font-size="4.4" font-family="'Liberation Sans', sans-serif" fill="#555">3D-C1</text>
<circle cx="423.6" cy="52" r="1.0" fill="none" stroke="#f0a040" stroke-width="0.6"/>
<text x="427.3" y="53.5" font-size="4.4" font-family="'Liberation Sans', sans-serif" fill="#555">3D-LR1</text>
<circle cx="423.6" cy="57.3" r="1.0" fill="none" stroke="#e8605a" stroke-width="0.6"/>
<text x="427.3" y="58.8" font-size="4.4" font-family="'Liberation Sans', sans-serif" fill="#555">3D-LR2</text>
<circle cx="423.6" cy="62.6" r="1.0" fill="none" stroke="#5a93d0" stroke-width="0.6"/>
<text x="427.3" y="64.1" font-size="4.4" font-family="'Liberation Sans', sans-serif" fill="#555">12D-C0</text>
<circle cx="423.6" cy="67.9" r="1.0" fill="none" stroke="#5fb8a4" stroke-width="0.6"/>
<text x="427.3" y="69.4" font-size="4.4" font-family="'Liberation Sans', sans-serif" fill="#555">12D-C1</text>
<circle cx="423.6" cy="73.2" r="1.0" fill="none" stroke="#f0a040" stroke-width="0.6"/>
<text x="427.3" y="74.7" font-size="4.4" font-family="'Liberation Sans', sans-serif" fill="#555">12D-LR1</text>
<circle cx="423.6" cy="78.5" r="1.0" fill="none" stroke="#e8605a" stroke-width="0.6"/>
<text x="427.3" y="80" font-size="4.4" font-family="'Liberation Sans', sans-serif" fill="#555">12D-LR2</text>
</g>
<text x="220.5" y="23.7" font-size="15" font-family="'Liberation Serif', serif" font-weight="bold" fill="#000">b</text>
<g id="pc">
<ellipse cx="538.8" cy="114.3" rx="77.0" ry="47.8" transform="rotate(40.3 538.8 114.3)" fill="rgb(1,103,7)" fill-opacity="0.5"/>
<ellipse cx="564.6" cy="88.5" rx="77.0" ry="47.8" transform="rotate(40.2 564.6 88.5)" fill="rgb(91,147,203)" fill-opacity="0.5"/>
<ellipse cx="572.0" cy="88.5" rx="77.0" ry="47.8" transform="rotate(-40.2 572.0 88.5)" fill="rgb(233,85,97)" fill-opacity="0.5"/>
<ellipse cx="597.8" cy="114.3" rx="77.0" ry="47.8" transform="rotate(-40.3 597.8 114.3)" fill="rgb(199,199,21)" fill-opacity="0.5"/>
<text x="523" y="45.5" font-size="6.4" font-family="'Liberation Sans', sans-serif" font-weight="bold" fill="#111" text-anchor="middle">82</text>
<text x="605.2" y="45.5" font-size="6.4" font-family="'Liberation Sans', sans-serif" font-weight="bold" fill="#111" text-anchor="middle">84</text>
<text x="566.7" y="58" font-size="6.4" font-family="'Liberation Sans', sans-serif" font-weight="bold" fill="#111" text-anchor="middle">75</text>
<text x="508.5" y="70.5" font-size="6.4" font-family="'Liberation Sans', sans-serif" font-weight="bold" fill="#111" text-anchor="middle">49</text>
<text x="625.6" y="70.5" font-size="6.4" font-family="'Liberation Sans', sans-serif" font-weight="bold" fill="#111" text-anchor="middle">37</text>
<text x="531" y="91.5" font-size="6.4" font-family="'Liberation Sans', sans-serif" font-weight="bold" fill="#111" text-anchor="middle">85</text>
<text x="602.6" y="91.5" font-size="6.4" font-family="'Liberation Sans', sans-serif" font-weight="bold" fill="#111" text-anchor="middle">68</text>
<text x="487.5" y="99.8" font-size="6.4" font-family="'Liberation Sans', sans-serif" font-weight="bold" fill="#111" text-anchor="middle">89</text>
<text x="643.8" y="99.8" font-size="6.4" font-family="'Liberation Sans', sans-serif" font-weight="bold" fill="#111" text-anchor="middle">106</text>
<text x="566" y="112.4" font-size="6.4" font-family="'Liberation Sans', sans-serif" font-weight="bold" fill="#111" text-anchor="middle">323</text>
<text x="518.7" y="129.3" font-size="6.4" font-family="'Liberation Sans', sans-serif" font-weight="bold" fill="#111" text-anchor="middle">42</text>
<text x="617.5" y="129.3" font-size="6.4" font-family="'Liberation Sans', sans-serif" font-weight="bold" fill="#111" text-anchor="middle">34</text>
<text x="539.8" y="141.6" font-size="6.4" font-family="'Liberation Sans', sans-serif" font-weight="bold" fill="#111" text-anchor="middle">33</text>
<text x="594.4" y="141.6" font-size="6.4" font-family="'Liberation Sans', sans-serif" font-weight="bold" fill="#111" text-anchor="middle">56</text>
<text x="566.8" y="162.2" font-size="6.4" font-family="'Liberation Sans', sans-serif" font-weight="bold" fill="#111" text-anchor="middle">43</text>
<text x="495.8" y="32.5" font-size="9.6" font-family="'Liberation Serif', serif" font-weight="bold" fill="#111">C1</text>
<text x="467.3" y="61.2" font-size="9.6" font-family="'Liberation Serif', serif" font-weight="bold" fill="#111">C0</text>
<text x="629.2" y="32.8" font-size="9.6" font-family="'Liberation Serif', serif" font-weight="bold" fill="#111">LR1</text>
<text x="668.4" y="61.2" font-size="9.6" font-family="'Liberation Serif', serif" font-weight="bold" fill="#111">LR2</text>
</g>
<text x="464.6" y="24" font-size="16" font-family="'Liberation Serif', serif" font-weight="bold" fill="#000">c</text>
<g id="pd">
<circle cx="46.3" cy="214.1" r="2.72" fill="rgb(184,216,176)"/>
<circle cx="61.39" cy="214.1" r="4.02" fill="rgb(237,175,108)"/>
<circle cx="76.48" cy="214.1" r="3.67" fill="rgb(239,203,136)"/>
<circle cx="106.67" cy="214.1" r="3.67" fill="rgb(239,203,136)"/>
<circle cx="121.76" cy="214.1" r="2.72" fill="rgb(184,216,176)"/>
<circle cx="136.85" cy="214.1" r="1.77" fill="rgb(68,168,200)"/>
<circle cx="151.94" cy="214.1" r="3.67" fill="rgb(239,203,136)"/>
<circle cx="167.04" cy="214.1" r="3.67" fill="rgb(239,203,136)"/>
<circle cx="182.13" cy="214.1" r="2.28" fill="rgb(110,186,186)"/>
<circle cx="197.22" cy="214.1" r="2.5" fill="rgb(147,201,181)"/>
<circle cx="227.4" cy="214.1" r="2.72" fill="rgb(184,216,176)"/>
<circle cx="242.5" cy="214.1" r="2.03" fill="rgb(89,177,193)"/>
<circle cx="257.59" cy="214.1" r="2.18" fill="rgb(102,182,189)"/>
<circle cx="272.68" cy="214.1" r="1.15" fill="rgb(56,164,200)"/>
<circle cx="287.77" cy="214.1" r="3.31" fill="rgb(231,221,160)"/>
<circle cx="302.86" cy="214.1" r="3.31" fill="rgb(231,221,160)"/>
<circle cx="317.96" cy="214.1" r="2.8" fill="rgb(192,218,174)"/>
<circle cx="333.05" cy="214.1" r="2.28" fill="rgb(110,186,186)"/>
<circle cx="348.14" cy="214.1" r="0.5" fill="rgb(46,160,201)"/>
<circle cx="363.23" cy="214.1" r="1.15" fill="rgb(56,164,200)"/>
<circle cx="378.32" cy="214.1" r="2.18" fill="rgb(102,182,189)"/>
<circle cx="393.42" cy="214.1" r="2.03" fill="rgb(89,177,193)"/>
<circle cx="408.51" cy="214.1" r="2.5" fill="rgb(147,201,181)"/>
<circle cx="423.6" cy="214.1" r="4.8" fill="rgb(232,105,42)"/>
<circle cx="438.69" cy="214.1" r="1.48" fill="rgb(62,166,200)"/>
<circle cx="468.88" cy="214.1" r="1.77" fill="rgb(68,168,200)"/>
<circle cx="483.97" cy="214.1" r="1.48" fill="rgb(62,166,200)"/>
<circle cx="514.15" cy="214.1" r="2.18" fill="rgb(102,182,189)"/>
<circle cx="559.43" cy="214.1" r="1.66" fill="rgb(66,167,200)"/>
<circle cx="574.52" cy="214.1" r="2.72" fill="rgb(184,216,176)"/>
<circle cx="589.61" cy="214.1" r="4.02" fill="rgb(237,175,108)"/>
<circle cx="46.3" cy="228.03" r="4.02" fill="rgb(237,175,108)"/>
<circle cx="61.39" cy="228.03" r="4.02" fill="rgb(237,175,108)"/>
<circle cx="76.48" cy="228.03" r="3.31" fill="rgb(231,221,160)"/>
<circle cx="91.58" cy="228.03" r="1.15" fill="rgb(56,164,200)"/>
<circle cx="106.67" cy="228.03" r="1.77" fill="rgb(68,168,200)"/>
<circle cx="121.76" cy="228.03" r="3.85" fill="rgb(238,190,120)"/>
<circle cx="136.85" cy="228.03" r="1.15" fill="rgb(56,164,200)"/>
<circle cx="151.94" cy="228.03" r="4.18" fill="rgb(236,160,96)"/>
<circle cx="182.13" cy="228.03" r="2.18" fill="rgb(102,182,189)"/>
<circle cx="197.22" cy="228.03" r="1.77" fill="rgb(68,168,200)"/>
<circle cx="227.4" cy="228.03" r="2.03" fill="rgb(89,177,193)"/>
<circle cx="242.5" cy="228.03" r="0.5" fill="rgb(46,160,201)"/>
<circle cx="257.59" cy="228.03" r="2.18" fill="rgb(102,182,189)"/>
<circle cx="272.68" cy="228.03" r="1" fill="rgb(53,163,201)"/>
<circle cx="287.77" cy="228.03" r="2.03" fill="rgb(89,177,193)"/>
<circle cx="302.86" cy="228.03" r="0.5" fill="rgb(46,160,201)"/>
<circle cx="317.96" cy="228.03" r="2.93" fill="rgb(203,221,172)"/>
<circle cx="333.05" cy="228.03" r="4.43" fill="rgb(234,138,70)"/>
<circle cx="348.14" cy="228.03" r="3.31" fill="rgb(231,221,160)"/>
<circle cx="363.23" cy="228.03" r="2.5" fill="rgb(147,201,181)"/>
<circle cx="378.32" cy="228.03" r="2.41" fill="rgb(132,195,183)"/>
<circle cx="393.42" cy="228.03" r="3.42" fill="rgb(236,218,155)"/>
<circle cx="408.51" cy="228.03" r="2.03" fill="rgb(89,177,193)"/>
<circle cx="423.6" cy="228.03" r="4.43" fill="rgb(234,138,70)"/>
<circle cx="438.69" cy="228.03" r="2.18" fill="rgb(102,182,189)"/>
<circle cx="468.88" cy="228.03" r="1.29" fill="rgb(58,164,200)"/>
<circle cx="483.97" cy="228.03" r="2.18" fill="rgb(102,182,189)"/>
<circle cx="499.06" cy="228.03" r="0.5" fill="rgb(46,160,201)"/>
<circle cx="514.15" cy="228.03" r="4.8" fill="rgb(232,105,42)"/>
<circle cx="529.24" cy="228.03" r="2.93" fill="rgb(203,221,172)"/>
<circle cx="544.34" cy="228.03" r="1.48" fill="rgb(62,166,200)"/>
<circle cx="559.43" cy="228.03" r="3.85" fill="rgb(238,190,120)"/>
<circle cx="574.52" cy="228.03" r="2.93" fill="rgb(203,221,172)"/>
<circle cx="589.61" cy="228.03" r="4.11" fill="rgb(236,166,101)"/>
<circle cx="46.3" cy="241.96" r="3.31" fill="rgb(231,221,160)"/>
<circle cx="61.39" cy="241.96" r="4.5" fill="rgb(234,132,64)"/>
<circle cx="76.48" cy="241.96" r="4.8" fill="rgb(232,105,42)"/>
<circle cx="91.58" cy="241.96" r="3.57" fill="rgb(240,211,146)"/>
<circle cx="106.67" cy="241.96" r="4.8" fill="rgb(232,105,42)"/>
<circle cx="121.76" cy="241.96" r="4.65" fill="rgb(233,119,53)"/>
<circle cx="136.85" cy="241.96" r="1.15" fill="rgb(56,164,200)"/>
<circle cx="167.04" cy="241.96" r="3.67" fill="rgb(239,203,136)"/>
<circle cx="182.13" cy="241.96" r="2.18" fill="rgb(102,182,189)"/>
<circle cx="197.22" cy="241.96" r="3.67" fill="rgb(239,203,136)"/>
<circle cx="227.4" cy="241.96" r="2.8" fill="rgb(192,218,174)"/>
<circle cx="242.5" cy="241.96" r="2.37" fill="rgb(125,192,184)"/>
<circle cx="257.59" cy="241.96" r="2.5" fill="rgb(147,201,181)"/>
<circle cx="272.68" cy="241.96" r="1.88" fill="rgb(76,172,197)"/>
<circle cx="287.77" cy="241.96" r="4.8" fill="rgb(232,105,42)"/>
<circle cx="302.86" cy="241.96" r="4.8" fill="rgb(232,105,42)"/>
<circle cx="317.96" cy="241.96" r="3.12" fill="rgb(222,226,168)"/>
<circle cx="333.05" cy="241.96" r="4.8" fill="rgb(232,105,42)"/>
<circle cx="348.14" cy="241.96" r="3.31" fill="rgb(231,221,160)"/>
<circle cx="363.23" cy="241.96" r="1.29" fill="rgb(58,164,200)"/>
<circle cx="378.32" cy="241.96" r="1.48" fill="rgb(62,166,200)"/>
<circle cx="393.42" cy="241.96" r="2.18" fill="rgb(102,182,189)"/>
<circle cx="408.51" cy="241.96" r="2.18" fill="rgb(102,182,189)"/>
<circle cx="423.6" cy="241.96" r="2.5" fill="rgb(147,201,181)"/>
<circle cx="468.88" cy="241.96" r="2.28" fill="rgb(110,186,186)"/>
<circle cx="499.06" cy="241.96" r="4.24" fill="rgb(236,154,90)"/>
<circle cx="529.24" cy="241.96" r="2.03" fill="rgb(89,177,193)"/>
<circle cx="544.34" cy="241.96" r="1.15" fill="rgb(56,164,200)"/>
<circle cx="559.43" cy="241.96" r="0.75" fill="rgb(49,161,201)"/>
<circle cx="574.52" cy="241.96" r="4.8" fill="rgb(232,105,42)"/>
<circle cx="589.61" cy="241.96" r="4.8" fill="rgb(232,105,42)"/>
<circle cx="46.3" cy="255.89" r="3.57" fill="rgb(240,211,146)"/>
<circle cx="61.39" cy="255.89" r="2.72" fill="rgb(184,216,176)"/>
<circle cx="76.48" cy="255.89" r="2.28" fill="rgb(110,186,186)"/>
<circle cx="91.58" cy="255.89" r="3.31" fill="rgb(231,221,160)"/>
<circle cx="106.67" cy="255.89" r="3.31" fill="rgb(231,221,160)"/>
<circle cx="121.76" cy="255.89" r="4.8" fill="rgb(232,105,42)"/>
<circle cx="167.04" cy="255.89" r="1.15" fill="rgb(56,164,200)"/>
<circle cx="287.77" cy="255.89" r="2.28" fill="rgb(110,186,186)"/>
<circle cx="302.86" cy="255.89" r="2.03" fill="rgb(89,177,193)"/>
<circle cx="333.05" cy="255.89" r="2.28" fill="rgb(110,186,186)"/>
<circle cx="423.6" cy="255.89" r="2.28" fill="rgb(110,186,186)"/>
<circle cx="483.97" cy="255.89" r="1.48" fill="rgb(62,166,200)"/>
<circle cx="499.06" cy="255.89" r="1.48" fill="rgb(62,166,200)"/>
<circle cx="514.15" cy="255.89" r="4.43" fill="rgb(234,138,70)"/>
<circle cx="544.34" cy="255.89" r="1.88" fill="rgb(76,172,197)"/>
<circle cx="574.52" cy="255.89" r="1.77" fill="rgb(68,168,200)"/>
<circle cx="589.61" cy="255.89" r="4.02" fill="rgb(237,175,108)"/>
<circle cx="46.3" cy="269.82" r="2.28" fill="rgb(110,186,186)"/>
<circle cx="61.39" cy="269.82" r="3.57" fill="rgb(240,211,146)"/>
<circle cx="76.48" cy="269.82" r="4.34" fill="rgb(235,146,80)"/>
<circle cx="91.58" cy="269.82" r="3.31" fill="rgb(231,221,160)"/>
<circle cx="106.67" cy="269.82" r="1.15" fill="rgb(56,164,200)"/>
<circle cx="121.76" cy="269.82" r="1.15" fill="rgb(56,164,200)"/>
<circle cx="136.85" cy="269.82" r="2.93" fill="rgb(203,221,172)"/>
<circle cx="151.94" cy="269.82" r="4.02" fill="rgb(237,175,108)"/>
<circle cx="167.04" cy="269.82" r="3.85" fill="rgb(238,190,120)"/>
<circle cx="182.13" cy="269.82" r="2.93" fill="rgb(203,221,172)"/>
<circle cx="197.22" cy="269.82" r="3.31" fill="rgb(231,221,160)"/>
<circle cx="212.31" cy="269.82" r="3.78" fill="rgb(238,195,126)"/>
<circle cx="227.4" cy="269.82" r="3.67" fill="rgb(239,203,136)"/>
<circle cx="242.5" cy="269.82" r="2.63" fill="rgb(169,210,178)"/>
<circle cx="257.59" cy="269.82" r="2.63" fill="rgb(169,210,178)"/>
<circle cx="272.68" cy="269.82" r="2.28" fill="rgb(110,186,186)"/>
<circle cx="287.77" cy="269.82" r="3.85" fill="rgb(238,190,120)"/>
<circle cx="302.86" cy="269.82" r="1.77" fill="rgb(68,168,200)"/>
<circle cx="317.96" cy="269.82" r="3.92" fill="rgb(238,184,115)"/>
<circle cx="333.05" cy="269.82" r="1.48" fill="rgb(62,166,200)"/>
<circle cx="348.14" cy="269.82" r="3.12" fill="rgb(222,226,168)"/>
<circle cx="363.23" cy="269.82" r="1.48" fill="rgb(62,166,200)"/>
<circle cx="378.32" cy="269.82" r="2.5" fill="rgb(147,201,181)"/>
<circle cx="393.42" cy="269.82" r="3.92" fill="rgb(238,184,115)"/>
<circle cx="408.51" cy="269.82" r="3.57" fill="rgb(240,211,146)"/>
<circle cx="438.69" cy="269.82" r="2.03" fill="rgb(89,177,193)"/>
<circle cx="453.78" cy="269.82" r="4.8" fill="rgb(232,105,42)"/>
<circle cx="468.88" cy="269.82" r="2.28" fill="rgb(110,186,186)"/>
<circle cx="483.97" cy="269.82" r="1.66" fill="rgb(66,167,200)"/>
<circle cx="499.06" cy="269.82" r="3.31" fill="rgb(231,221,160)"/>
<circle cx="514.15" cy="269.82" r="2.28" fill="rgb(110,186,186)"/>
<circle cx="529.24" cy="269.82" r="3.67" fill="rgb(239,203,136)"/>
<circle cx="544.34" cy="269.82" r="2.18" fill="rgb(102,182,189)"/>
<circle cx="559.43" cy="269.82" r="3.2" fill="rgb(226,224,165)"/>
<circle cx="574.52" cy="269.82" r="3.92" fill="rgb(238,184,115)"/>
<circle cx="589.61" cy="269.82" r="2.72" fill="rgb(184,216,176)"/>
<circle cx="46.3" cy="283.75" r="4.8" fill="rgb(232,105,42)"/>
<circle cx="61.39" cy="283.75" r="4.8" fill="rgb(232,105,42)"/>
<circle cx="76.48" cy="283.75" r="2.93" fill="rgb(203,221,172)"/>
<circle cx="91.58" cy="283.75" r="4.8" fill="rgb(232,105,42)"/>
<circle cx="106.67" cy="283.75" r="2.93" fill="rgb(203,221,172)"/>
<circle cx="121.76" cy="283.75" r="2.28" fill="rgb(110,186,186)"/>
<circle cx="136.85" cy="283.75" r="3.57" fill="rgb(240,211,146)"/>
<circle cx="151.94" cy="283.75" r="4.02" fill="rgb(237,175,108)"/>
<circle cx="167.04" cy="283.75" r="4.8" fill="rgb(232,105,42)"/>
<circle cx="182.13" cy="283.75" r="4.8" fill="rgb(232,105,42)"/>
<circle cx="197.22" cy="283.75" r="4.65" fill="rgb(233,119,53)"/>
<circle cx="212.31" cy="283.75" r="3.85" fill="rgb(238,190,120)"/>
<circle cx="227.4" cy="283.75" r="4.8" fill="rgb(232,105,42)"/>
<circle cx="242.5" cy="283.75" r="4.8" fill="rgb(232,105,42)"/>
<circle cx="257.59" cy="283.75" r="4.8" fill="rgb(232,105,42)"/>
<circle cx="272.68" cy="283.75" r="4.8" fill="rgb(232,105,42)"/>
<circle cx="302.86" cy="283.75" r="0.75" fill="rgb(49,161,201)"/>
<circle cx="317.96" cy="283.75" r="4.8" fill="rgb(232,105,42)"/>
<circle cx="333.05" cy="283.75" r="2.28" fill="rgb(110,186,186)"/>
<circle cx="348.14" cy="283.75" r="4.8" fill="rgb(232,105,42)"/>
<circle cx="363.23" cy="283.75" r="2.5" fill="rgb(147,201,181)"/>
<circle cx="378.32" cy="283.75" r="2.8" fill="rgb(192,218,174)"/>
<circle cx="393.42" cy="283.75" r="4.8" fill="rgb(232,105,42)"/>
<circle cx="408.51" cy="283.75" r="4.8" fill="rgb(232,105,42)"/>
<circle cx="423.6" cy="283.75" r="4.24" fill="rgb(236,154,90)"/>
<circle cx="438.69" cy="283.75" r="3.05" fill="rgb(214,224,170)"/>
<circle cx="468.88" cy="283.75" r="3.92" fill="rgb(238,184,115)"/>
<circle cx="483.97" cy="283.75" r="4.02" fill="rgb(237,175,108)"/>
<circle cx="499.06" cy="283.75" r="4.8" fill="rgb(232,105,42)"/>
<circle cx="514.15" cy="283.75" r="3.85" fill="rgb(238,190,120)"/>
<circle cx="529.24" cy="283.75" r="4.8" fill="rgb(232,105,42)"/>
<circle cx="544.34" cy="283.75" r="2.63" fill="rgb(169,210,178)"/>
<circle cx="559.43" cy="283.75" r="4.8" fill="rgb(232,105,42)"/>
<circle cx="574.52" cy="283.75" r="2.8" fill="rgb(192,218,174)"/>
<circle cx="589.61" cy="283.75" r="3.05" fill="rgb(214,224,170)"/>
<circle cx="61.39" cy="297.68" r="3.57" fill="rgb(240,211,146)"/>
<circle cx="76.48" cy="297.68" r="1.77" fill="rgb(68,168,200)"/>
<circle cx="91.58" cy="297.68" r="3.31" fill="rgb(231,221,160)"/>
<circle cx="121.76" cy="297.68" r="2.28" fill="rgb(110,186,186)"/>
<circle cx="136.85" cy="297.68" r="3.5" fill="rgb(240,216,152)"/>
<circle cx="151.94" cy="297.68" r="4.8" fill="rgb(232,105,42)"/>
<circle cx="167.04" cy="297.68" r="3.31" fill="rgb(231,221,160)"/>
<circle cx="182.13" cy="297.68" r="2.03" fill="rgb(89,177,193)"/>
<circle cx="197.22" cy="297.68" r="3.31" fill="rgb(231,221,160)"/>
<circle cx="212.31" cy="297.68" r="2.93" fill="rgb(203,221,172)"/>
<circle cx="227.4" cy="297.68" r="3.12" fill="rgb(222,226,168)"/>
<circle cx="242.5" cy="297.68" r="2.63" fill="rgb(169,210,178)"/>
<circle cx="257.59" cy="297.68" r="2.5" fill="rgb(147,201,181)"/>
<circle cx="272.68" cy="297.68" r="1.77" fill="rgb(68,168,200)"/>
<circle cx="287.77" cy="297.68" r="2.5" fill="rgb(147,201,181)"/>
<circle cx="317.96" cy="297.68" r="3.31" fill="rgb(231,221,160)"/>
<circle cx="348.14" cy="297.68" r="2.8" fill="rgb(192,218,174)"/>
<circle cx="363.23" cy="297.68" r="1" fill="rgb(53,163,201)"/>
<circle cx="378.32" cy="297.68" r="1.29" fill="rgb(58,164,200)"/>
<circle cx="393.42" cy="297.68" r="2.8" fill="rgb(192,218,174)"/>
<circle cx="408.51" cy="297.68" r="2.03" fill="rgb(89,177,193)"/>
<circle cx="423.6" cy="297.68" r="2.03" fill="rgb(89,177,193)"/>
<circle cx="438.69" cy="297.68" r="2.03" fill="rgb(89,177,193)"/>
<circle cx="453.78" cy="297.68" r="3.57" fill="rgb(240,211,146)"/>
<circle cx="468.88" cy="297.68" r="1.66" fill="rgb(66,167,200)"/>
<circle cx="483.97" cy="297.68" r="2.72" fill="rgb(184,216,176)"/>
<circle cx="499.06" cy="297.68" r="4.18" fill="rgb(236,160,96)"/>
<circle cx="514.15" cy="297.68" r="0.75" fill="rgb(49,161,201)"/>
<circle cx="529.24" cy="297.68" r="3.2" fill="rgb(226,224,165)"/>
<circle cx="544.34" cy="297.68" r="0.75" fill="rgb(49,161,201)"/>
<circle cx="559.43" cy="297.68" r="4.11" fill="rgb(236,166,101)"/>
<circle cx="574.52" cy="297.68" r="4.11" fill="rgb(236,166,101)"/>
<circle cx="46.3" cy="311.61" r="1.77" fill="rgb(68,168,200)"/>
<circle cx="91.58" cy="311.61" r="2.28" fill="rgb(110,186,186)"/>
<circle cx="106.67" cy="311.61" r="1.77" fill="rgb(68,168,200)"/>
<circle cx="136.85" cy="311.61" r="4.8" fill="rgb(232,105,42)"/>
<circle cx="151.94" cy="311.61" r="4.02" fill="rgb(237,175,108)"/>
<circle cx="167.04" cy="311.61" r="1.48" fill="rgb(62,166,200)"/>
<circle cx="182.13" cy="311.61" r="4.18" fill="rgb(236,160,96)"/>
<circle cx="197.22" cy="311.61" r="4.8" fill="rgb(232,105,42)"/>
<circle cx="212.31" cy="311.61" r="4.8" fill="rgb(232,105,42)"/>
<circle cx="227.4" cy="311.61" r="1.66" fill="rgb(66,167,200)"/>
<circle cx="242.5" cy="311.61" r="3.42" fill="rgb(236,218,155)"/>
<circle cx="257.59" cy="311.61" r="4.18" fill="rgb(236,160,96)"/>
<circle cx="272.68" cy="311.61" r="2.72" fill="rgb(184,216,176)"/>
<circle cx="287.77" cy="311.61" r="1.77" fill="rgb(68,168,200)"/>
<circle cx="302.86" cy="311.61" r="0.75" fill="rgb(49,161,201)"/>
<circle cx="317.96" cy="311.61" r="0.75" fill="rgb(49,161,201)"/>
<circle cx="333.05" cy="311.61" r="0.75" fill="rgb(49,161,201)"/>
<circle cx="348.14" cy="311.61" r="1.77" fill="rgb(68,168,200)"/>
<circle cx="363.23" cy="311.61" r="4.8" fill="rgb(232,105,42)"/>
<circle cx="378.32" cy="311.61" r="4.8" fill="rgb(232,105,42)"/>
<circle cx="393.42" cy="311.61" r="1.88" fill="rgb(76,172,197)"/>
<circle cx="408.51" cy="311.61" r="4.34" fill="rgb(235,146,80)"/>
<circle cx="423.6" cy="311.61" r="1.48" fill="rgb(62,166,200)"/>
<circle cx="438.69" cy="311.61" r="4.8" fill="rgb(232,105,42)"/>
<circle cx="453.78" cy="311.61" r="3.05" fill="rgb(214,224,170)"/>
<circle cx="468.88" cy="311.61" r="4.8" fill="rgb(232,105,42)"/>
<circle cx="483.97" cy="311.61" r="4.8" fill="rgb(232,105,42)"/>
<circle cx="499.06" cy="311.61" r="2.18" fill="rgb(102,182,189)"/>
<circle cx="514.15" cy="311.61" r="4.11" fill="rgb(236,166,101)"/>
<circle cx="529.24" cy="311.61" r="4.02" fill="rgb(237,175,108)"/>
<circle cx="544.34" cy="311.61" r="4.8" fill="rgb(232,105,42)"/>
<circle cx="559.43" cy="311.61" r="3.85" fill="rgb(238,190,120)"/>
<circle cx="589.61" cy="311.61" r="3.78" fill="rgb(238,195,126)"/>
<text x="598.6" y="216.5" font-size="7.3" font-family="'Liberation Serif', serif" font-weight="bold" fill="#111">3D-C0</text>
<text x="598.6" y="230.43" font-size="7.3" font-family="'Liberation Serif', serif" font-weight="bold" fill="#111">3D-C1</text>
<text x="598.6" y="244.36" font-size="7.3" font-family="'Liberation Serif', serif" font-weight="bold" fill="#111">3D-LR1</text>
<text x="598.6" y="258.29" font-size="7.3" font-family="'Liberation Serif', serif" font-weight="bold" fill="#111">3D-LR2</text>
<text x="598.6" y="272.22" font-size="7.3" font-family="'Liberation Serif', serif" font-weight="bold" fill="#111">12D-C0</text>
<text x="598.6" y="286.15" font-size="7.3" font-family="'Liberation Serif', serif" font-weight="bold" fill="#111">12D-C1</text>
<text x="598.6" y="300.08" font-size="7.3" font-family="'Liberation Serif', serif" font-weight="bold" fill="#111">12D-LR1</text>
<text x="598.6" y="314.01" font-size="7.3" font-family="'Liberation Serif', serif" font-weight="bold" fill="#111">12D-LR2</text>
<text transform="translate(47.9,324) rotate(-45)" font-size="7" font-family="'Liberation Serif', serif" font-weight="bold" fill="#111" text-anchor="end">PE 36:4</text>
<text transform="translate(62.99,324) rotate(-45)" font-size="7" font-family="'Liberation Serif', serif" font-weight="bold" fill="#111" text-anchor="end">PE 32:2</text>
<text transform="translate(78.08,324) rotate(-45)" font-size="7" font-family="'Liberation Serif', serif" font-weight="bold" fill="#111" text-anchor="end">PE 40:6</text>
<text transform="translate(93.18,324) rotate(-45)" font-size="7" font-family="'Liberation Serif', serif" font-weight="bold" fill="#111" text-anchor="end">TG 56:6</text>
<text transform="translate(108.27,324) rotate(-45)" font-size="7" font-family="'Liberation Serif', serif" font-weight="bold" fill="#111" text-anchor="end">PC 42:10</text>
<text transform="translate(123.36,324) rotate(-45)" font-size="7" font-family="'Liberation Serif', serif" font-weight="bold" fill="#111" text-anchor="end">PC O-27:0</text>
<text transform="translate(138.45,324) rotate(-45)" font-size="7" font-family="'Liberation Serif', serif" font-weight="bold" fill="#111" text-anchor="end">PC 40:1</text>
<text transform="translate(153.54,324) rotate(-45)" font-size="7" font-family="'Liberation Serif', serif" font-weight="bold" fill="#111" text-anchor="end">Cer 42:5</text>
<text transform="translate(168.64,324) rotate(-45)" font-size="7" font-family="'Liberation Serif', serif" font-weight="bold" fill="#111" text-anchor="end">TG 40:0</text>
<text transform="translate(183.73,324) rotate(-45)" font-size="7" font-family="'Liberation Serif', serif" font-weight="bold" fill="#111" text-anchor="end">SM 41:0</text>
<text transform="translate(198.82,324) rotate(-45)" font-size="7" font-family="'Liberation Serif', serif" font-weight="bold" fill="#111" text-anchor="end">PC 33:0</text>
<text transform="translate(213.91,324) rotate(-45)" font-size="7" font-family="'Liberation Serif', serif" font-weight="bold" fill="#111" text-anchor="end">Cer 38:2</text>
<text transform="translate(229,324) rotate(-45)" font-size="7" font-family="'Liberation Serif', serif" font-weight="bold" fill="#111" text-anchor="end">TG 46:3</text>
<text transform="translate(244.1,324) rotate(-45)" font-size="7" font-family="'Liberation Serif', serif" font-weight="bold" fill="#111" text-anchor="end">PC O-30:0</text>
<text transform="translate(259.19,324) rotate(-45)" font-size="7" font-family="'Liberation Serif', serif" font-weight="bold" fill="#111" text-anchor="end">Cer 41:1</text>
<text transform="translate(274.28,324) rotate(-45)" font-size="7" font-family="'Liberation Serif', serif" font-weight="bold" fill="#111" text-anchor="end">PC O-38:6</text>
<text transform="translate(289.37,324) rotate(-45)" font-size="7" font-family="'Liberation Serif', serif" font-weight="bold" fill="#111" text-anchor="end">PC 42:4</text>
<text transform="translate(304.46,324) rotate(-45)" font-size="7" font-family="'Liberation Serif', serif" font-weight="bold" fill="#111" text-anchor="end">PC 27:0</text>
<text transform="translate(319.56,324) rotate(-45)" font-size="7" font-family="'Liberation Serif', serif" font-weight="bold" fill="#111" text-anchor="end">TG 46:2</text>
<text transform="translate(334.65,324) rotate(-45)" font-size="7" font-family="'Liberation Serif', serif" font-weight="bold" fill="#111" text-anchor="end">TG 58:8</text>
<text transform="translate(349.74,324) rotate(-45)" font-size="7" font-family="'Liberation Serif', serif" font-weight="bold" fill="#111" text-anchor="end">TG 51:4</text>
<text transform="translate(364.83,324) rotate(-45)" font-size="7" font-family="'Liberation Serif', serif" font-weight="bold" fill="#111" text-anchor="end">HexCer 40:1</text>
<text transform="translate(379.92,324) rotate(-45)" font-size="7" font-family="'Liberation Serif', serif" font-weight="bold" fill="#111" text-anchor="end">SM 44:1</text>
<text transform="translate(395.02,324) rotate(-45)" font-size="7" font-family="'Liberation Serif', serif" font-weight="bold" fill="#111" text-anchor="end">TG 49:3</text>
<text transform="translate(410.11,324) rotate(-45)" font-size="7" font-family="'Liberation Serif', serif" font-weight="bold" fill="#111" text-anchor="end">PC O-38:1</text>
<text transform="translate(425.2,324) rotate(-45)" font-size="7" font-family="'Liberation Serif', serif" font-weight="bold" fill="#111" text-anchor="end">PE 42:6</text>
<text transform="translate(440.29,324) rotate(-45)" font-size="7" font-family="'Liberation Serif', serif" font-weight="bold" fill="#111" text-anchor="end">HexCer 38:1</text>
<text transform="translate(455.38,324) rotate(-45)" font-size="7" font-family="'Liberation Serif', serif" font-weight="bold" fill="#111" text-anchor="end">DG 31:1</text>
<text transform="translate(470.48,324) rotate(-45)" font-size="7" font-family="'Liberation Serif', serif" font-weight="bold" fill="#111" text-anchor="end">PC O-41:3</text>
<text transform="translate(485.57,324) rotate(-45)" font-size="7" font-family="'Liberation Serif', serif" font-weight="bold" fill="#111" text-anchor="end">Cer 40:2</text>
<text transform="translate(500.66,324) rotate(-45)" font-size="7" font-family="'Liberation Serif', serif" font-weight="bold" fill="#111" text-anchor="end">PE 37:2</text>
<text transform="translate(515.75,324) rotate(-45)" font-size="7" font-family="'Liberation Serif', serif" font-weight="bold" fill="#111" text-anchor="end">PI 36:0</text>
<text transform="translate(530.84,324) rotate(-45)" font-size="7" font-family="'Liberation Serif', serif" font-weight="bold" fill="#111" text-anchor="end">PE O-38:2</text>
<text transform="translate(545.94,324) rotate(-45)" font-size="7" font-family="'Liberation Serif', serif" font-weight="bold" fill="#111" text-anchor="end">PE 40:1</text>
<text transform="translate(561.03,324) rotate(-45)" font-size="7" font-family="'Liberation Serif', serif" font-weight="bold" fill="#111" text-anchor="end">Cer 35:1</text>
<text transform="translate(576.12,324) rotate(-45)" font-size="7" font-family="'Liberation Serif', serif" font-weight="bold" fill="#111" text-anchor="end">TG 56:9</text>
<text transform="translate(591.21,324) rotate(-45)" font-size="7" font-family="'Liberation Serif', serif" font-weight="bold" fill="#111" text-anchor="end">PC 42:8</text>
<circle cx="645.9" cy="234.1" r="1.7" fill="rgb(68,168,200)"/>
<text x="651.6" y="236.2" font-size="6.4" font-family="'Liberation Serif', serif" font-weight="bold" fill="#111">0.20</text>
<circle cx="645.9" cy="246.4" r="2.8" fill="rgb(184,216,176)"/>
<text x="651.6" y="248.5" font-size="6.4" font-family="'Liberation Serif', serif" font-weight="bold" fill="#111">0.40</text>
<circle cx="645.9" cy="259" r="3.6" fill="rgb(240,216,152)"/>
<text x="651.6" y="261.1" font-size="6.4" font-family="'Liberation Serif', serif" font-weight="bold" fill="#111">0.60</text>
<circle cx="645.9" cy="271.3" r="4.1" fill="rgb(236,160,96)"/>
<text x="651.6" y="273.4" font-size="6.4" font-family="'Liberation Serif', serif" font-weight="bold" fill="#111">0.80</text>
<circle cx="645.9" cy="283.8" r="4.75" fill="rgb(232,105,42)"/>
<text x="651.6" y="285.9" font-size="6.4" font-family="'Liberation Serif', serif" font-weight="bold" fill="#111">1.00</text>
</g>
<text x="-0.6" y="223.4" font-size="17" font-family="'Liberation Serif', serif" font-weight="bold" fill="#000">d</text>
</svg>
</body></html>
